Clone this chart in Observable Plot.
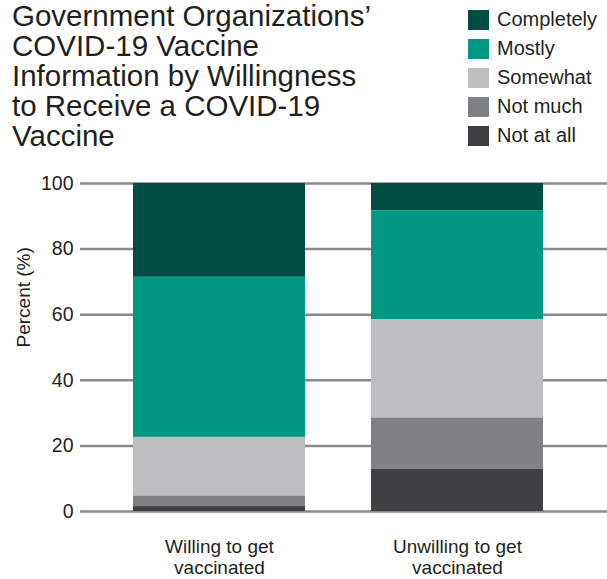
<!DOCTYPE html>
<html>
<head>
<meta charset="utf-8">
<script src="https://cdn.jsdelivr.net/npm/d3@7"></script>
<script src="https://cdn.jsdelivr.net/npm/@observablehq/plot@0.6"></script>
<style>
  html, body { margin: 0; padding: 0; background: #fff; }
  body { width: 607px; height: 579px; overflow: hidden; position: relative; font-family: "Liberation Sans", Arial, sans-serif; color: #231f20; }
  #title { position: absolute; left: 12px; top: 1px; font-size: 29.5px; line-height: 30px; color: #231f20; }
  #legend { position: absolute; left: 468px; top: 5px; }
  .item { display: flex; align-items: center; height: 29px; font-size: 20px; color: #231f20; }
  .sw { width: 21px; height: 20px; margin-right: 8px; }
  #chart { position: absolute; left: 0; top: 165px; }
</style>
</head>
<body>
<div id="title">Government Organizations’<br>COVID-19 Vaccine<br>Information by Willingness<br>to Receive a COVID-19<br>Vaccine</div>
<div id="legend"></div>
<div id="chart"></div>
<script>
const groups = ["Willing to get\nvaccinated", "Unwilling to get\nvaccinated"];
const levels = ["Completely", "Mostly", "Somewhat", "Not much", "Not at all"];
const colors = ["#014d42", "#009882", "#bdbec0", "#7e8184", "#404042"];
const willing = [28.6, 48.8, 17.9, 3.2, 1.5];
const unwilling = [8.3, 33.2, 30.0, 15.6, 12.9];
const yTicks = [0, 20, 40, 60, 80, 100];

const series = [willing, unwilling];
const data = [];
groups.forEach((g, gi) => levels.forEach((l, li) => data.push({group: g, level: l, value: series[gi][li]})));

const legend = document.getElementById("legend");
levels.forEach((l, i) => {
  const d = document.createElement("div");
  d.className = "item";
  d.innerHTML = `<div class="sw" style="background:${colors[i]}"></div><span>${l}</span>`;
  legend.appendChild(d);
});

const chart = Plot.plot({
  width: 607,
  height: 414,
  marginTop: 18,
  marginBottom: 68,
  marginLeft: 80,
  marginRight: 0,
  style: {fontFamily: "Liberation Sans, Arial, sans-serif", fontSize: "19px", color: "#231f20", background: "#fff"},
  x: {domain: groups, range: [80, 596], paddingInner: 0.277, paddingOuter: 0.221, label: null},
  y: {domain: [0, 100], label: null},
  color: {domain: levels, range: colors},
  marks: [
    Plot.ruleY(yTicks, {stroke: "#8a8a8a", strokeWidth: 2.5}),
    Plot.barY(data, Plot.stackY({x: "group", y: "value", fill: "level", order: [...levels].reverse()})),
    Plot.axisY(yTicks, {tickSize: 0, tickPadding: 7, fontSize: 19.5, label: null}),
    Plot.axisX({tickSize: 0, tickPadding: 27, fontSize: 19, lineHeight: 1.08, label: null}),
    Plot.text(["Percent (%)"], {frameAnchor: "left", dx: -57, rotate: -90, fontSize: 19, fill: "#231f20"})
  ]
});
document.getElementById("chart").appendChild(chart);
</script>
</body>
</html>
